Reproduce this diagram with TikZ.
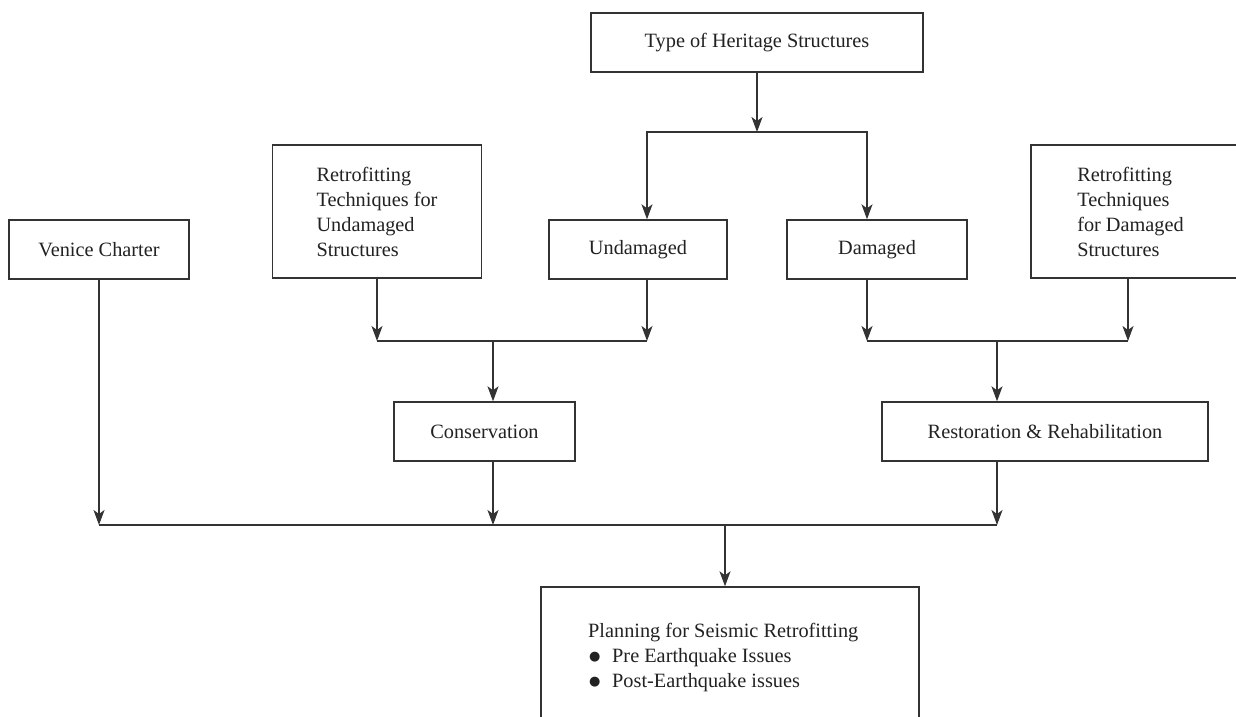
\documentclass[tikz,border=0pt]{standalone}
\usepackage{fontspec}
\setmainfont{Liberation Serif}
\newfontfamily\djv{DejaVu Sans}
\usetikzlibrary{arrows.meta}
\definecolor{lncol}{HTML}{333333}
\definecolor{txcol}{HTML}{222222}
\newcommand\bigbul{\makebox[10pt][l]{\raisebox{1.2pt}{\djv\fontsize{13}{15}\selectfont ●}}}
\begin{document}
\begin{tikzpicture}[x=1pt,y=-1pt,
  box/.style={draw=lncol,line width=1.4pt,rectangle,inner sep=0pt,text=txcol,
    font=\fontsize{20.3}{25}\selectfont,align=center},
  arr/.style={draw=lncol,line width=1.4pt,-{Stealth[length=15pt,width=11pt,inset=4pt]}},
  plain/.style={draw=lncol,line width=1.4pt},
  txt/.style={text=txcol,font=\fontsize{20.3}{25}\selectfont,inner sep=0pt}]
\useasboundingbox (0,0) rectangle (1236,716);
\fill[white] (0,0) rectangle (1236,716);
\clip (0,0) rectangle (1236,716);

% boxes
\node[box,minimum width=332pt,minimum height=59pt] (type) at (757,42.5) {Type of Heritage Structures};
\node[box,minimum width=180pt,minimum height=59pt] (venice) at (99,249.5) {Venice Charter};
\node[box,minimum width=209pt,minimum height=133pt,align=left] (retroU) at (377,211.5) {Retrofitting\\Techniques for\\Undamaged\\Structures};
\node[box,minimum width=178pt,minimum height=59pt] (undam) at (638,249.5) {Undamaged};
\node[box,minimum width=180pt,minimum height=59pt] (dam) at (877,249.5) {Damaged};
\node[box,minimum width=209pt,minimum height=133pt,align=left] (retroD) at (1135.5,211.5) {Retrofitting\\Techniques\\for Damaged\rule{10pt}{0pt}\\Structures};
\node[box,minimum width=181pt,minimum height=59pt] (cons) at (484.5,431.5) {Conservation};
\node[box,minimum width=326pt,minimum height=59pt] (rest) at (1045,431.5) {Restoration \& Rehabilitation};
\node[box,minimum width=378pt,minimum height=180pt] (plan) at (730,677) {};
\node[txt,align=left,anchor=west] (plantxt) at (588,657) {Planning for Seismic Retrofitting\\
\hspace{1pt}\bigbul\hspace{13pt}Pre Earthquake Issues\\
\hspace{1pt}\bigbul\hspace{13pt}Post-Earthquake issues};

% helper coordinates
\coordinate (xU) at (647,0);
\coordinate (xD) at (867,0);
\coordinate (xRD) at (1128,0);
\coordinate (jt) at (757,132);
\coordinate (jc) at (493,341);
\coordinate (jr) at (997,341);
\coordinate (jb) at (725,525);

% connectors
\draw[arr] (type.south) -- (jt);
\draw[arr] (jt) -| (undam.north -| xU);
\draw[arr] (jt) -| (dam.north -| xD);

\draw[arr] (retroU.south) -- (retroU.south |- jc);
\draw[arr] (undam.south -| xU) -- (xU |- jc);
\draw[plain] (retroU.south |- jc) -- (xU |- jc);
\draw[arr] (jc) -- (jc |- cons.north);

\draw[arr] (dam.south -| xD) -- (xD |- jr);
\draw[arr] (retroD.south -| xRD) -- (xRD |- jr);
\draw[plain] (xD |- jr) -- (xRD |- jr);
\draw[arr] (jr) -- (jr |- rest.north);

\draw[arr] (venice.south) -- (venice.south |- jb);
\draw[arr] (jc |- cons.south) -- (jc |- jb);
\draw[arr] (jr |- rest.south) -- (jr |- jb);
\draw[plain] (venice.south |- jb) -- (jr |- jb);
\draw[arr] (jb) -- (jb |- plan.north);
\end{tikzpicture}
\end{document}
